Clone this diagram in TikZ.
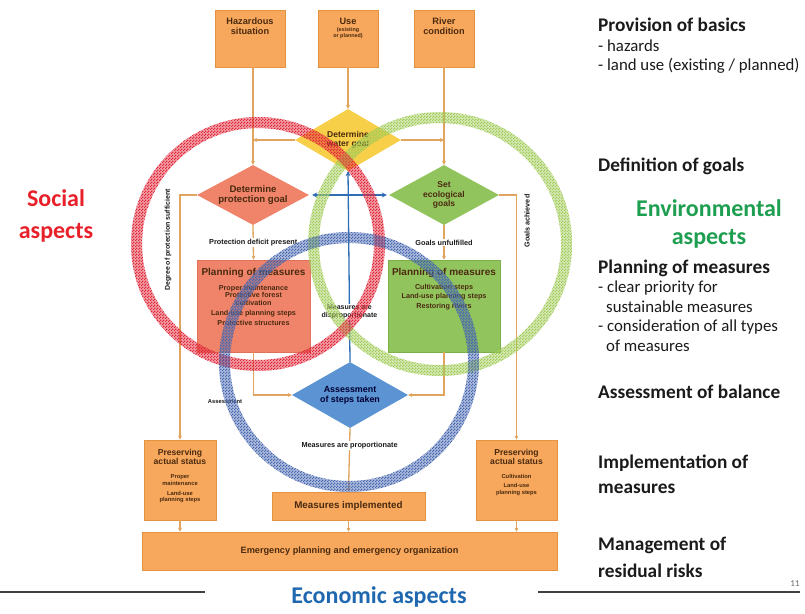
\documentclass[tikz,border=0pt]{standalone}
\usepackage{fontspec}
\setmainfont{Carlito}
\newfontfamily\arialf{Liberation Sans}
\usetikzlibrary{shapes.geometric,arrows.meta,patterns}
\pgfdeclarepatternformonly{checker}{\pgfpointorigin}{\pgfqpoint{3pt}{3pt}}{\pgfqpoint{3pt}{3pt}}{%
  \pgfpathrectangle{\pgfpointorigin}{\pgfqpoint{1.5pt}{1.5pt}}%
  \pgfpathrectangle{\pgfqpoint{1.5pt}{1.5pt}}{\pgfqpoint{1.5pt}{1.5pt}}%
  \pgfusepath{fill}}
\definecolor{boxor}{HTML}{F8A85C}
\definecolor{boxorb}{HTML}{E59340}
\definecolor{salmon}{HTML}{F0846A}
\definecolor{salmonb}{HTML}{E0705A}
\definecolor{grn}{HTML}{92C45E}
\definecolor{grnb}{HTML}{7DB048}
\definecolor{yel}{HTML}{F8CF48}
\definecolor{bluD}{HTML}{5B93D3}
\definecolor{bluL}{HTML}{2F6DB5}
\definecolor{linec}{HTML}{E0A45E}
\definecolor{txtb}{HTML}{4A2A10}
\definecolor{ringR}{HTML}{E0283A}
\definecolor{ringG}{HTML}{A2CC58}
\definecolor{ringB}{HTML}{4868B0}
\definecolor{socialred}{HTML}{E8202A}
\definecolor{envgreen}{HTML}{1E9E50}
\definecolor{econblue}{HTML}{1F68B0}
\definecolor{headtxt}{HTML}{1A1A1A}
\begin{document}
\begin{tikzpicture}[x=1pt,y=-1pt,
  obox/.style={draw=boxorb, fill=boxor, line width=0.8pt, inner sep=0pt},
  dia/.style={diamond, inner sep=0pt, shape aspect=1.8, draw=none, align=center,
     font=\arialf\bfseries\fontsize{8.5}{9.5}\selectfont, text=txtb},
  btxt/.style={align=center, inner sep=0pt, text=txtb, font=\arialf\bfseries\fontsize{9.2}{10.2}\selectfont},
  stxt/.style={align=center, inner sep=0pt, text=txtb, font=\arialf\bfseries\fontsize{5.8}{6.6}\selectfont},
  lbl/.style={align=center, inner sep=1pt, fill=white, text=headtxt, font=\arialf\bfseries\fontsize{7.3}{8.2}\selectfont},
  conn/.style={draw=linec, line width=1.3pt, -{Stealth[length=4pt,width=4pt]}},
  bconn/.style={draw=bluL, line width=1.3pt, -{Stealth[length=5pt,width=5pt]}},
  head/.style={anchor=west, inner sep=0pt, text=headtxt, font=\bfseries\fontsize{19.3}{21}\selectfont},
  sub/.style={anchor=west, inner sep=0pt, text=headtxt, font=\fontsize{16.8}{18}\selectfont},
  aspect/.style={inner sep=0pt, align=center, font=\bfseries\fontsize{24}{32}\selectfont},
  ring/.style={pattern=checker, even odd rule}
]
\useasboundingbox (0,0) rectangle (805,613);

% ---- top input boxes
\node[obox, minimum width=70, minimum height=57] (haz) at (250,38.5) {};
\node[btxt] (hazt) at (250,26) {Hazardous\\situation};
\node[obox, minimum width=60, minimum height=57] (use) at (348,38.5) {};
\node[btxt] (uset) at (348,21) {Use};
\node[stxt, font=\arialf\bfseries\fontsize{5.4}{6.2}\selectfont] (uses) at (348,33) {(existing\\or planned)};
\node[obox, minimum width=60, minimum height=57] (riv) at (444,38.5) {};
\node[btxt] (rivt) at (444,26) {River\\condition};

% ---- diamonds
\node[dia, fill=yel, minimum width=106, minimum height=62] (goal) at (348,140) {Determine\\water goal};
\node[dia, fill=salmon, minimum width=112, minimum height=60, font=\arialf\bfseries\fontsize{9.6}{10.8}\selectfont] (prot) at (253,195) {Determine\\protection goal};
\node[dia, fill=grn, minimum width=110, minimum height=60] (eco) at (444,195) {Set\\ecological\\goals};
\node[dia, fill=bluD, minimum width=116, minimum height=66, font=\arialf\bfseries\fontsize{8.9}{10}\selectfont, text=black!80!blue] (assess) at (350,395) {Assessment\\of steps taken};

% ---- planning boxes
\node[draw=salmonb, fill=salmon, line width=0.8pt, inner sep=0pt, minimum width=113, minimum height=92] (planP) at (253.5,306) {};
\node[btxt, font=\arialf\bfseries\fontsize{10}{11}\selectfont] (planPt) at (253.5,273) {Planning of measures};
\node[stxt, font=\arialf\bfseries\fontsize{7.2}{10}\selectfont, anchor=north] (planPs) at (253.5,285) {Proper maintenance\\[-2.5pt]Protective forest\\[-2.5pt]cultivation\\Land-use planning steps\\Protective structures};
\node[draw=grnb, fill=grn, line width=0.8pt, inner sep=0pt, minimum width=112, minimum height=92] (planE) at (444,306) {};
\node[btxt, font=\arialf\bfseries\fontsize{10}{11}\selectfont] (planEt) at (444,273) {Planning of measures};
\node[stxt, font=\arialf\bfseries\fontsize{7.2}{9.5}\selectfont, anchor=north] (planEs) at (444,284) {Cultivation steps\\Land-use planning steps\\Restoring rivers};

% ---- bottom boxes
\node[obox, minimum width=72, minimum height=80] (presL) at (180,480) {};
\node[btxt, font=\arialf\bfseries\fontsize{8.6}{9.6}\selectfont] (presLt) at (180,457) {Preserving\\actual status};
\node[stxt] (presLs) at (180,489) {Proper\\maintenance\\[3pt]Land-use\\planning steps};
\node[obox, minimum width=81, minimum height=80] (presR) at (516.5,480) {};
\node[btxt, font=\arialf\bfseries\fontsize{8.6}{9.6}\selectfont] (presRt) at (516.5,457) {Preserving\\actual status};
\node[stxt] (presRs) at (516.5,485) {Cultivation\\[3pt]Land-use\\planning steps};
\node[obox, minimum width=153, minimum height=28, font=\arialf\bfseries\fontsize{9.8}{11}\selectfont, text=txtb] (impl) at (348.5,506) {Measures implemented};
\node[obox, minimum width=415, minimum height=38, font=\arialf\bfseries\fontsize{9.2}{10}\selectfont, text=txtb] (emerg) at (349.5,551) {Emergency planning and emergency organization};

% ---- connectors
\draw[conn] (prot.north |- haz.south) -- (prot.north);
\draw[conn] (use.south) -- (goal.north);
\draw[conn] (eco.north |- riv.south) -- (eco.north);
\draw[conn] (goal.west) -- (goal.west -| prot.north);
\draw[conn] (goal.east) -- (goal.east -| eco.north);
\draw[conn] (prot.south) -- node[lbl] (lab1) {Protection deficit present} (planP.north);
\draw[conn] (eco.south) -- node[lbl] (lab2) {Goals unfulfilled} (planE.north);
\draw[conn] (prot.west) -| (presL.north);
\node[lbl, fill=none, rotate=90, font=\arialf\bfseries\fontsize{7}{8}\selectfont] (lab3) at (168,240) {Degree of protection sufficient};
\draw[conn] (eco.east) -| (presR.north);
\node[lbl, fill=none, rotate=90, font=\arialf\bfseries\fontsize{7.2}{8}\selectfont] (lab4) at (527,221) {Goals achieved};
\draw[conn] (planP.south) |- (assess.west);
\draw[conn] (planE.south) |- (assess.east);
\draw[conn] (assess.south) -- node[lbl, pos=0.27] (lab5) {Measures are proportionate} (impl.north);
\draw[bconn] (assess.north) -- node[lbl, pos=0.26, font=\arialf\bfseries\fontsize{7}{8}\selectfont] (lab6) {Measures are\\disproportionate} (goal.south);
\draw[bconn, {Stealth[length=5pt,width=5pt]}-{Stealth[length=5pt,width=5pt]}] ([xshift=3pt]prot.east) -- ([xshift=-2pt]eco.west);
\node[lbl, fill=none, font=\arialf\bfseries\fontsize{5.8}{6.5}\selectfont] (lab7) at (225,402) {Assessment};
\draw[conn] (presL.south) -- (presL.south |- emerg.north);
\draw[conn] (impl.south) -- (impl.south |- emerg.north);
\draw[conn] (presR.south) -- (presR.south |- emerg.north);

% ---- rings
\fill[ring, pattern color=ringG] (440,244) circle (132) (440,244) circle (121);
\fill[ring, pattern color=ringR] (258,244) circle (127) (258,244) circle (116);
\fill[ring, pattern color=ringB] (349,362) circle (130) (349,362) circle (119);
\fill[ringG, opacity=0.45, even odd rule] (440,244) circle (132) (440,244) circle (121);
\fill[ringR, opacity=0.45, even odd rule] (258,244) circle (127) (258,244) circle (116);
\fill[ringB, opacity=0.45, even odd rule] (349,362) circle (130) (349,362) circle (119);

% ---- aspects
\node[aspect, text=socialred] (social) at (56,216) {Social\\aspects};
\node[aspect, text=envgreen, font=\bfseries\fontsize{24}{28}\selectfont] (env) at (709,224) {Environmental\\aspects};
\node[aspect, text=econblue] (econ) at (379,597) {Economic aspects};

% ---- right-hand notes
\node[head] (h1) at (598,25) {Provision of basics};
\node[sub] (h1a) at (598,46) {- hazards};
\node[sub] (h1b) at (598,66) {- land use (existing / planned)};
\node[head] (h2) at (598,166) {Definition of goals};
\node[head] (h3) at (598,268) {Planning of measures};
\node[sub] (h3a) at (598,288) {- clear priority for};
\node[sub] (h3b) at (606,307) {sustainable measures};
\node[sub] (h3c) at (598,327) {- consideration of all types};
\node[sub] (h3d) at (606,346) {of measures};
\node[head] (h4) at (598,392) {Assessment of balance};
\node[head] (h5) at (598,463) {Implementation of};
\node[head] (h5b) at (598,489) {measures};
\node[head] (h6) at (598,545) {Management of};
\node[head] (h6b) at (598,571) {residual risks};

% ---- footer
\draw[line width=2pt, black!75] (0,592) coordinate (fl1) -- (205,592) coordinate (fl2);
\draw[line width=2pt, black!75] (538,592) coordinate (fr1) -- (800,592) coordinate (fr2);
\node[inner sep=0pt, text=black!60, font=\fontsize{9}{10}\selectfont] (pg) at (795,584) {11};
\end{tikzpicture}
\end{document}
